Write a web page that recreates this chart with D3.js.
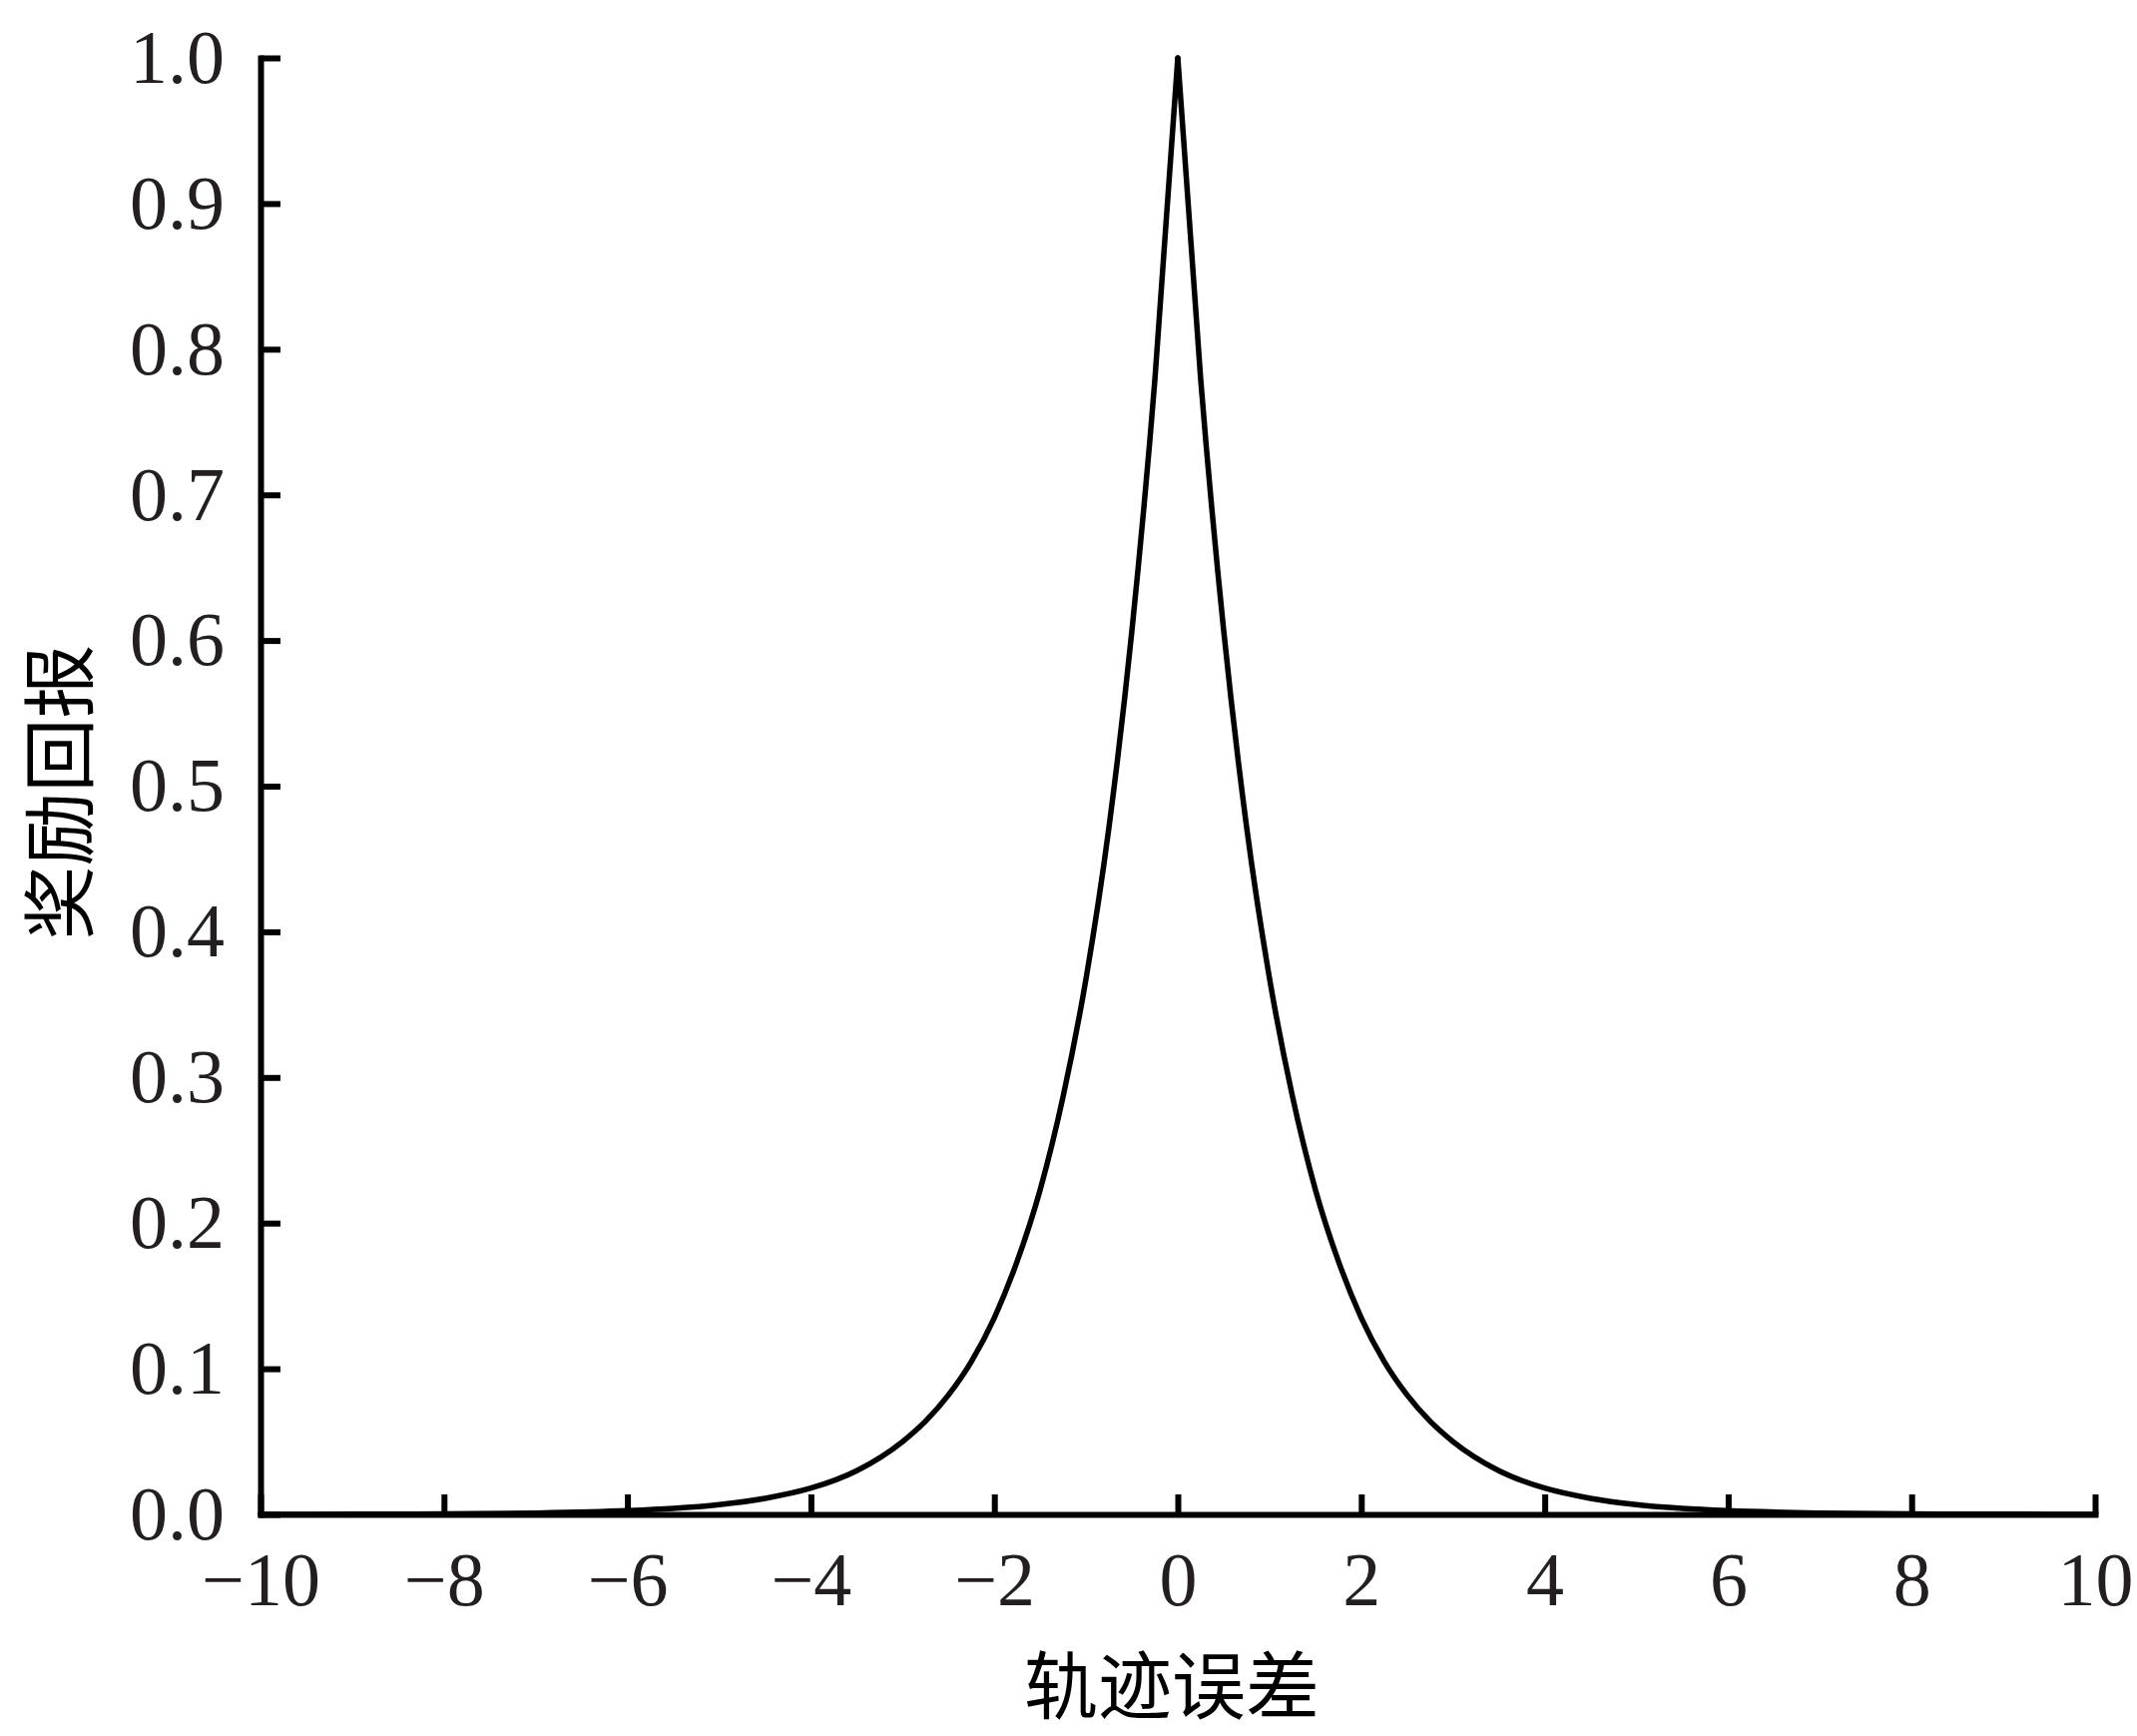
<!DOCTYPE html>
<html>
<head>
<meta charset="utf-8">
<script src="https://cdn.jsdelivr.net/npm/d3@7/dist/d3.min.js"></script>
<style>
  html, body { margin: 0; padding: 0; background: #fff; }
  svg { display: block; }
</style>
</head>
<body>
<svg id="chart" width="2141" height="1739"></svg>
<script>
// Values (trajectory error vs reward)
const errLeft   = [-10, -9, -8, -7, -6, -5.5, -5, -4.5, -4, -3.5, -3, -2.75, -2.5, -2.25, -2, -1.75, -1.5, -1.25, -1, -0.75, -0.5, -0.25, 0];
const rewardLeft = [0.00005, 0.00012, 0.00034, 0.0009, 0.0025, 0.0041, 0.0067, 0.011, 0.018, 0.030, 0.050, 0.064, 0.082, 0.105, 0.135, 0.174, 0.223, 0.287, 0.368, 0.472, 0.607, 0.779, 1.0];
const errRight   = [0, 0.25, 0.5, 0.75, 1, 1.25, 1.5, 1.75, 2, 2.25, 2.5, 2.75, 3, 3.5, 4, 4.5, 5, 5.5, 6, 7, 8, 9, 10];
const rewardRight = [1.0, 0.779, 0.607, 0.472, 0.368, 0.287, 0.223, 0.174, 0.135, 0.105, 0.082, 0.064, 0.050, 0.030, 0.018, 0.011, 0.0067, 0.0041, 0.0025, 0.0009, 0.00034, 0.00012, 0.00005];
const xTicks = [-10, -8, -6, -4, -2, 0, 2, 4, 6, 8, 10];
const yTicks = [0.0, 0.1, 0.2, 0.3, 0.4, 0.5, 0.6, 0.7, 0.8, 0.9, 1.0];
const xTitle = "轨迹误差";
const yTitle = "奖励回报";

(function () {
const svg = d3.select("#chart");
const mLeft = 261, mRight = 2099, mTop = 58, mBottom = 1517;
const x = d3.scaleLinear().domain([-10, 10]).range([mLeft, mRight]);
const y = d3.scaleLinear().domain([0, 1]).range([mBottom, mTop]);

const numFont = "'Liberation Serif', 'Times New Roman', serif";
const textColor = "#231f20";

// X axis
const gx = svg.append("g")
  .attr("transform", `translate(0,${mBottom})`)
  .call(d3.axisBottom(x).tickValues(xTicks).tickSize(-20).tickSizeOuter(0).tickPadding(37));
// Y axis
const gy = svg.append("g")
  .attr("transform", `translate(${mLeft},0)`)
  .call(d3.axisLeft(y).tickValues(yTicks).tickFormat(d3.format(".1f")).tickSize(-20).tickSizeOuter(0).tickPadding(36));

[gx, gy].forEach(g => {
  g.selectAll(".domain").attr("stroke", "#000").attr("stroke-width", 6).attr("stroke-linecap", "square");
  g.selectAll(".tick line").attr("stroke", "#000").attr("stroke-width", 6);
  g.selectAll(".tick text").attr("fill", textColor)
    .style("font-family", numFont).style("font-size", "76px");
});

// Curve
const line = d3.line()
  .x(d => x(d[0]))
  .y(d => y(d[1]))
  .curve(d3.curveMonotoneX);

[[errLeft, rewardLeft], [errRight, rewardRight]].forEach(([xs, ys]) => {
  svg.append("path")
    .datum(xs.map((v, i) => [v, ys[i]]))
    .attr("fill", "none")
    .attr("stroke", "#000")
    .attr("stroke-width", 5.5)
    .attr("stroke-linejoin", "round")
    .attr("stroke-linecap", "round")
    .attr("d", line);
});

// Axis titles
svg.append("text")
  .attr("x", (mLeft + mRight) / 2 - 6)
  .attr("y", 1716)
  .attr("text-anchor", "middle")
  .attr("fill", "#000")
  .style("font-family", "'Noto Sans CJK SC', sans-serif")
  .style("font-size", "74px")
  .text(xTitle);

svg.append("text")
  .attr("transform", `translate(87,${(mTop + mBottom) / 2 + 6}) rotate(-90)`)
  .attr("text-anchor", "middle")
  .attr("fill", "#000")
  .style("font-family", "'Noto Sans CJK SC', sans-serif")
  .style("font-size", "74px")
  .text(yTitle);
})();
</script>
</body>
</html>
